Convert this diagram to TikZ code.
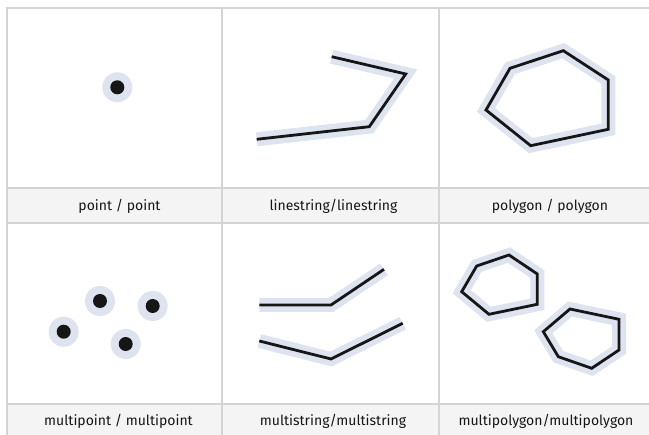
\documentclass[tikz,border=0pt]{standalone}
\usepackage{fontspec}
\setmainfont{Fira Sans}
\definecolor{grid}{HTML}{D4D4D4}
\definecolor{capbg}{HTML}{F4F4F4}
\definecolor{halo}{HTML}{DDE3EF}
\definecolor{ink}{HTML}{161616}
\tikzset{
  haloline/.style={draw=halo, line width=14pt, miter limit=10, line join=miter},
  inkline/.style={draw=ink, line width=2.8pt, line join=miter},
  halodot/.style={fill=halo},
  inkdot/.style={fill=ink},
  caption/.style={font=\fontsize{14}{16}\selectfont, text=ink, inner sep=0pt, anchor=center},
}
\begin{document}
\begin{tikzpicture}[x=1pt,y=-1pt]
\useasboundingbox (0,0) rectangle (649,435);
\fill[white] (0,0) rectangle (649,435);
% caption bands
\fill[capbg] (7,188) rectangle (649,223);
\fill[capbg] (7,404) rectangle (649,435);
% grid
\draw[grid, line width=1.3pt] (7,440) -- (7,8) -- (660,8);
\draw[grid, line width=1.3pt] (222,8) -- (222,440);
\draw[grid, line width=1.3pt] (439,8) -- (439,440);
\draw[grid, line width=1.3pt] (7,188) -- (660,188);
\draw[grid, line width=1.3pt] (7,223) -- (660,223);
\draw[grid, line width=1.3pt] (7,404) -- (660,404);
% point
\fill[halodot] (117.3,87.3) circle (15);
\fill[inkdot] (117.3,87.3) circle (7);
% linestring
\draw[haloline] (256.7,139.3) -- (369.3,126.7) -- (405.7,74) -- (331.7,56.7);
\draw[inkline] (256.7,139.3) -- (369.3,126.7) -- (405.7,74) -- (331.7,56.7);
% polygon
\draw[haloline] (486,110) -- (510,68.3) -- (563.3,50.7) -- (608.3,80) -- (608.3,129.3) -- (530.7,145.7) -- cycle;
\draw[inkline] (486,110) -- (510,68.3) -- (563.3,50.7) -- (608.3,80) -- (608.3,129.3) -- (530.7,145.7) -- cycle;
% multipoint
\foreach \p in {(100,301),(152.7,306),(63.7,331.7),(125.7,344)}{
  \fill[halodot] \p circle (15);
  \fill[inkdot] \p circle (7);
}
% multistring
\draw[haloline] (259.3,305) -- (331,305) -- (384,269.3);
\draw[haloline] (259.3,341) -- (331,359) -- (402.7,323.3);
\draw[inkline] (259.3,305) -- (331,305) -- (384,269.3);
\draw[inkline] (259.3,341) -- (331,359) -- (402.7,323.3);
% multipolygon
\draw[haloline] (461.7,291.7) -- (476.7,266) -- (509,255) -- (537.3,274) -- (537.3,304.3) -- (489,314.3) -- cycle;
\draw[haloline] (543.3,331.7) -- (570,309) -- (619,319.3) -- (619,350) -- (591.7,368.3) -- (558.3,356.7) -- cycle;
\draw[inkline] (461.7,291.7) -- (476.7,266) -- (509,255) -- (537.3,274) -- (537.3,304.3) -- (489,314.3) -- cycle;
\draw[inkline] (543.3,331.7) -- (570,309) -- (619,319.3) -- (619,350) -- (591.7,368.3) -- (558.3,356.7) -- cycle;
% captions
\node[caption] (c1) at (119.5,206) {point / point};
\node[caption] (c2) at (333.5,206) {linestring/linestring};
\node[caption] (c3) at (550,206) {polygon / polygon};
\node[caption] (c4) at (118.5,421) {multipoint / multipoint};
\node[caption] (c5) at (333,421) {multistring/multistring};
\node[caption] (c6) at (546,421) {multipolygon/multipolygon};
\end{tikzpicture}
\end{document}
